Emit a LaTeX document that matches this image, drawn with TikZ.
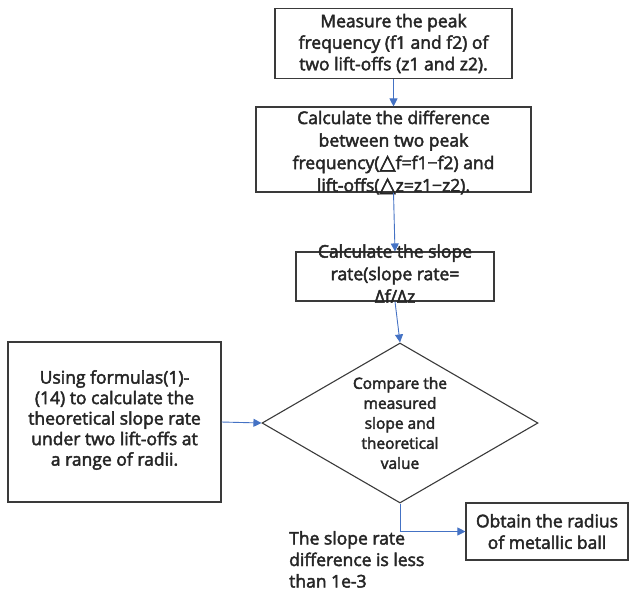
\documentclass[tikz,border=0pt]{standalone}
\usepackage{fontspec}
\setmainfont{Open Sans}[FakeBold=2.6,AutoFakeBold=2.6]
\newfontfamily\symfont{DejaVu Sans}[Scale=1.2,FakeBold=2.6,AutoFakeBold=2.6]
\usetikzlibrary{arrows.meta,shapes.geometric}
\definecolor{arrowblue}{HTML}{4472C4}
\definecolor{boxgray}{HTML}{3A3A3A}
\definecolor{txtgray}{HTML}{262626}
\tikzset{
  boxshape/.style={draw=boxgray,line width=1.1pt,rectangle,inner sep=0pt},
  txt/.style={align=center,inner sep=0pt,text=txtgray,font=\fontsize{17.5}{21.5}\selectfont\bfseries},
  smalltxt/.style={align=center,inner sep=0pt,text=txtgray,font=\fontsize{15.5}{20}\selectfont\bfseries},
  flow/.style={draw=arrowblue,line width=0.9pt,-{Triangle[width=8pt,length=8pt]}},
}
\begin{document}
\begin{tikzpicture}[x=1pt,y=1pt]
\useasboundingbox (0,0) rectangle (637,-595);
% boxes
\node[boxshape,minimum width=237pt,minimum height=70pt] (b1) at (393.5,-43.5) {};
\node[txt] (t1) at (b1.center) {Measure the peak\\frequency (f1 and f2) of\\two lift-offs (z1 and z2).};
\node[boxshape,minimum width=275pt,minimum height=85pt] (b2) at (393.5,-149.5) {};
\node[txt,font=\fontsize{17.5}{22.5}\selectfont\bfseries] (t2) at ([yshift=-3pt]b2.center) {Calculate the difference\\between two peak\\frequency({\symfont△}f=f1−f2) and\\lift-offs({\symfont△}z=z1−z2).};
\node[boxshape,minimum width=198pt,minimum height=49pt] (b3) at (395,-276.5) {};
\node[txt,font=\fontsize{17.5}{22.5}\selectfont\bfseries] (t3) at ([yshift=3pt]b3.center) {Calculate the slope\\rate(slope rate=\\Δf/Δz};
\node[boxshape,minimum width=213pt,minimum height=160pt] (b4) at (114.5,-422) {};
\node[txt,font=\fontsize{17.5}{20.5}\selectfont\bfseries] (t4) at ([yshift=2pt]b4.center) {Using formulas(1)-\\(14) to calculate the\\theoretical slope rate\\under two lift-offs at\\a range of radii.};
\node[draw=boxgray,line width=1.1pt,diamond,minimum width=276pt,minimum height=160pt,inner sep=0pt] (d) at (400,-423) {};
\node[smalltxt] (td) at ([yshift=0pt]d.center) {Compare the\\measured\\slope and\\theoretical\\value};
\node[boxshape,minimum width=162pt,minimum height=57pt] (b5) at (547,-531.5) {};
\node[txt] (t5) at (b5.center) {Obtain the radius\\of metallic ball};
\node[txt,align=left,anchor=north west] (lab) at (289,-531) {The slope rate\\difference is less\\than 1e-3};
% connectors
\draw[flow] (b1.south) -- (b2.north);
\draw[flow] (b2.south) -- (b3.north);
\draw[flow] (b3.south) -- (d.north);
\draw[flow] (b4.east) -- (d.west);
\draw[flow] (d.south) |- (b5.west);
\end{tikzpicture}
\end{document}
